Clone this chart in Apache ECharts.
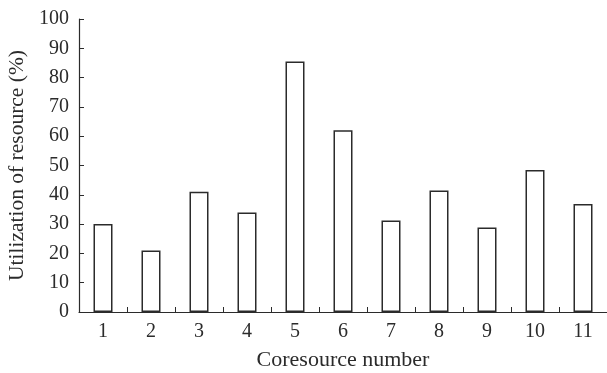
<!DOCTYPE html>
<html>
<head>
<meta charset="utf-8">
<script src="https://cdn.jsdelivr.net/npm/echarts@6/dist/echarts.min.js"></script>
<style>
  html, body { margin: 0; padding: 0; background: #fff; }
  #chart { width: 607px; height: 373px; }
</style>
</head>
<body>
<div id="chart"></div>
<script>
// 横轴: 资源编号
const categories = ["1", "2", "3", "4", "5", "6", "7", "8", "9", "10", "11"];
// 资源利用率 (%)
const utilization = [30, 21, 41, 34, 85.5, 62, 31.2, 41.5, 28.8, 48.5, 36.9];

const serif = "'Liberation Serif', 'DejaVu Serif', serif";
const ink = "#2b2b2b";

const chart = echarts.init(document.getElementById("chart"));
chart.setOption({
  animation: false,
  grid: {
    left: 79,
    right: 0,
    top: 19,
    bottom: 61,
    outerBoundsMode: "none"
  },
  xAxis: {
    type: "category",
    data: categories,
    name: "Coresource number",
    nameLocation: "middle",
    nameGap: 37,
    nameTextStyle: { fontFamily: serif, fontSize: 22, color: ink },
    axisLine: { lineStyle: { color: ink, width: 1.2 } },
    axisTick: { show: true, inside: true, length: 5, lineStyle: { color: ink } },
    axisLabel: { fontFamily: serif, fontSize: 20, color: ink, margin: 10 }
  },
  yAxis: {
    type: "value",
    min: 0,
    max: 100,
    interval: 10,
    name: "Utilization of resource (%)",
    nameLocation: "middle",
    nameGap: 50,
    nameTextStyle: { fontFamily: serif, fontSize: 21.5, color: ink },
    axisLine: { show: true, lineStyle: { color: ink, width: 1.2 } },
    axisTick: { show: true, inside: true, length: 5, lineStyle: { color: ink } },
    axisLabel: { fontFamily: serif, fontSize: 20, color: ink, margin: 10 },
    splitLine: { show: false }
  },
  series: [
    {
      type: "bar",
      data: utilization,
      barWidth: 19,
      itemStyle: {
        color: "#fff",
        borderColor: ink,
        borderWidth: 1.5
      }
    }
  ]
});
</script>
</body>
</html>
